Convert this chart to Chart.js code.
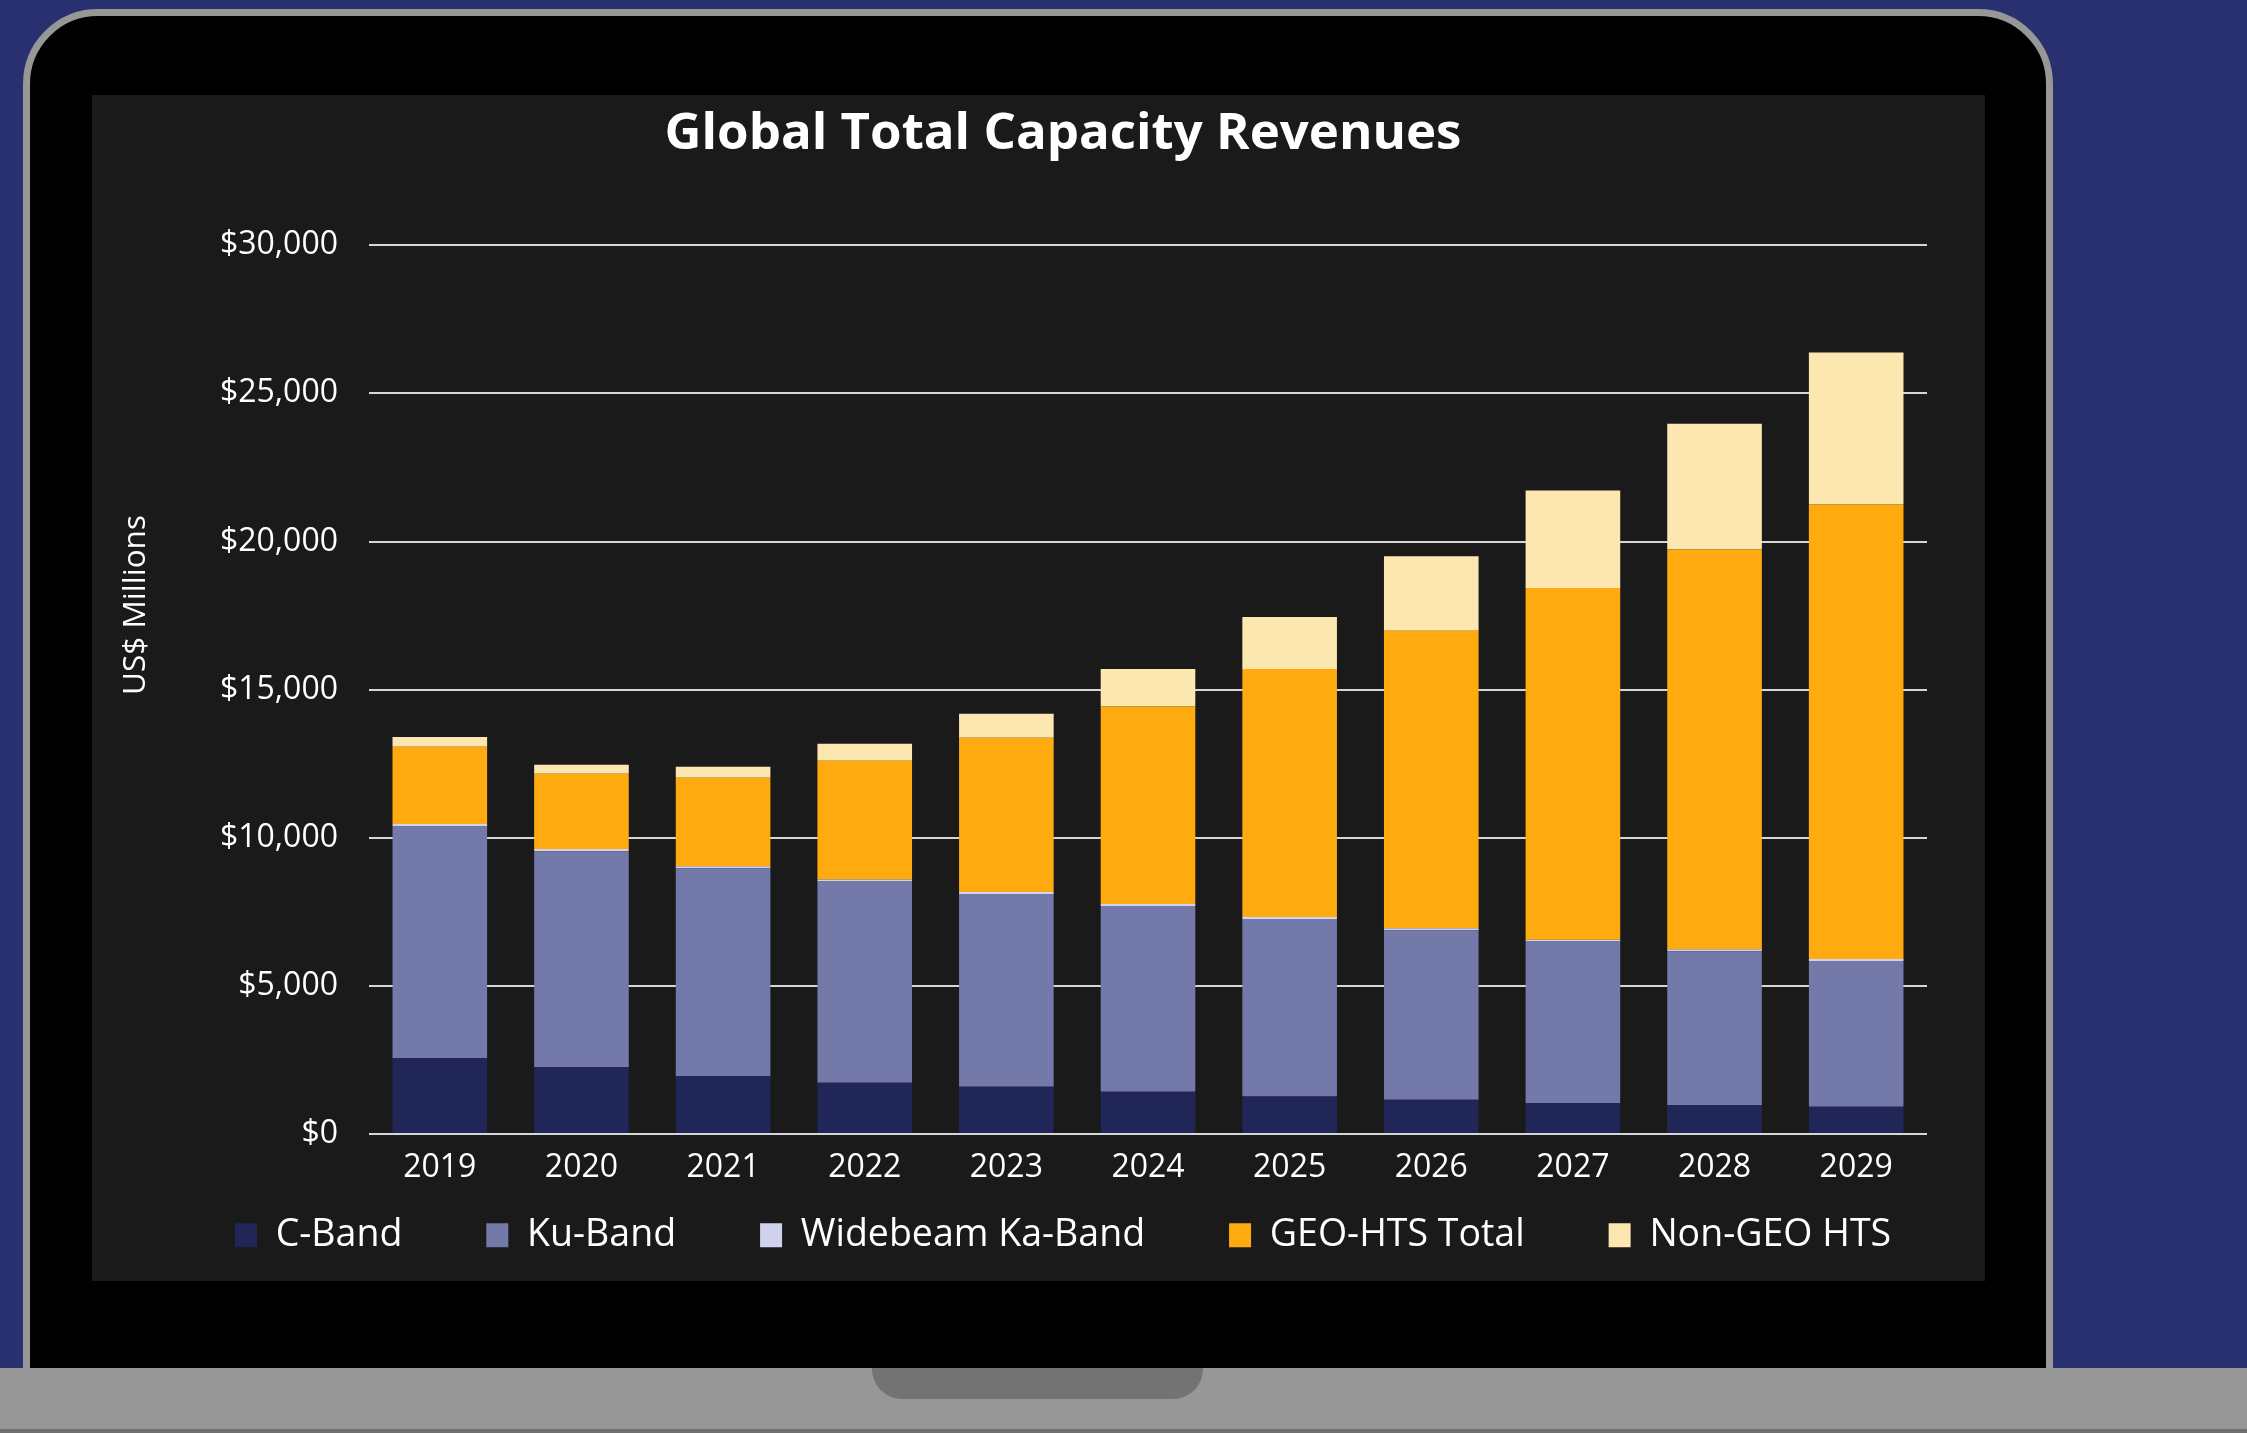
<!DOCTYPE html>
<html>
<head>
<meta charset="utf-8">
<script src="https://cdn.jsdelivr.net/npm/chart.js@4.4.1/dist/chart.umd.min.js"></script>
<style>
  html, body { margin: 0; padding: 0; }
  body { width: 2247px; height: 1433px; background: #29306f; position: relative; overflow: hidden; }
  .frame { position: absolute; left: 23px; top: 9px; width: 2030px; height: 1400px; box-sizing: border-box;
    border: 7px solid #979797; border-radius: 75px 75px 0 0; background: #000; }
  .base { position: absolute; left: 0; top: 1368px; width: 2247px; height: 61px; background: #979797; }
  .base-edge { position: absolute; left: 0; top: 1429px; width: 2247px; height: 4px; background: #6f6f6f; }
  .notch { position: absolute; left: 872px; top: 1368px; width: 331px; height: 31px; background: #737373;
    border-radius: 0 0 30px 30px; }
  .panel { position: absolute; left: 92px; top: 95px; width: 1893px; height: 1186px; background: #1a1a1a; }
  .chart-box { position: absolute; left: 92px; top: 95px; width: 1835px; height: 1185px; }
</style>
</head>
<body>
<div class="frame"></div>
<div class="base"></div>
<div class="base-edge"></div>
<div class="notch"></div>
<div class="panel"></div>
<div class="chart-box"><canvas id="revenueChart"></canvas></div>
<script>
const years = ["2019", "2020", "2021", "2022", "2023", "2024", "2025", "2026", "2027", "2028", "2029"];
const cBand = [2556, 2252, 1959, 1734, 1599, 1430, 1272, 1160, 1047, 980, 923];
const kuBand = [7826, 7296, 7015, 6790, 6508, 6272, 5991, 5720, 5450, 5190, 4921];
const widebeamKa = [80, 70, 70, 65, 65, 65, 65, 65, 65, 65, 65];
const geoHts = [2612, 2545, 2984, 4009, 5202, 6666, 8370, 10046, 11869, 13491, 15337];
const nonGeoHts = [327, 304, 371, 574, 811, 1265, 1756, 2512, 3288, 4246, 5135];

const seriesNames = ["C-Band", "Ku-Band", "Widebeam Ka-Band", "GEO-HTS Total", "Non-GEO HTS"];
const seriesColors = ["#212658", "#7379a8", "#d0d2ee", "#ffab10", "#fde7b1"];

const yTicks = { min: 0, max: 30000, step: 5000 };

const textColor = "#ffffff";
const gridColor = "#d6d6d6";

// y axis title sits above the middle of the axis in the original, so draw it by hand
const yTitlePlugin = {
  id: "yTitle",
  afterDraw(chart) {
    const ctx = chart.ctx;
    ctx.save();
    ctx.translate(44, 510);
    ctx.rotate(-Math.PI / 2);
    ctx.font = "31.5px 'Open Sans'";
    ctx.fillStyle = textColor;
    ctx.textAlign = "center";
    ctx.textBaseline = "middle";
    ctx.fillText("US$ Millions", 0, 0);
    ctx.restore();
  },
};

const makeDataset = (label, values, color) => {
  return {
    label: label,
    data: values,
    backgroundColor: color,
    borderWidth: 0,
    categoryPercentage: 1,
    barPercentage: 0.668,
  };
};

const datasets = [cBand, kuBand, widebeamKa, geoHts, nonGeoHts].map((values, i) =>
  makeDataset(seriesNames[i], values, seriesColors[i])
);

new Chart(document.getElementById("revenueChart"), {
  type: "bar",
  data: { labels: years, datasets: datasets },
  plugins: [yTitlePlugin],
  options: {
    responsive: true,
    maintainAspectRatio: false,
    animation: false,
    layout: { padding: { left: 107, right: 0, top: 0, bottom: 16 } },
    plugins: {
      tooltip: { enabled: false },
      title: {
        display: true,
        text: "Global Total Capacity Revenues",
        color: textColor,
        font: { family: "'Open Sans'", size: 51, weight: "bold" },
        padding: { top: 9, bottom: 80 },
      },
      legend: {
        position: "bottom",
        labels: {
          color: textColor,
          font: { family: "'Open Sans'", size: 37.5 },
          boxWidth: 22,
          boxHeight: 24,
          padding: 14,
          // extra gap after each item except the last
          generateLabels: (chart) => {
            const items = Chart.defaults.plugins.legend.labels.generateLabels(chart);
            return items.map((item, i) => {
              if (i < items.length - 1) {
                item.text = item.text + "\u2003\u2002\u2009\u200A\u200A";
              }
              return item;
            });
          },
        },
      },
    },
    scales: {
      x: {
        stacked: true,
        grid: { display: false, drawTicks: false },
        border: { display: false },
        ticks: {
          color: textColor,
          font: { family: "'Open Sans'", size: 32 },
          padding: 15,
        },
      },
      y: {
        stacked: true,
        min: yTicks.min,
        max: yTicks.max,
        afterFit: (scale) => {
          scale.width = 170;
        },
        grid: { color: gridColor, lineWidth: 2, drawTicks: false },
        border: { display: false },
        ticks: {
          stepSize: yTicks.step,
          color: textColor,
          font: { family: "'Open Sans'", size: 32 },
          padding: 31,
          callback: (value) => "$" + value.toLocaleString("en-US"),
        },
      },
    },
  },
});
</script>
</body>
</html>
